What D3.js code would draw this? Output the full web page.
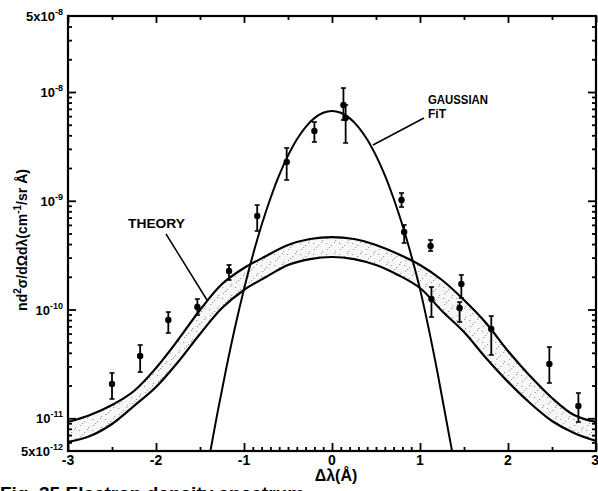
<!DOCTYPE html>
<html><head><meta charset="utf-8">
<script src="https://cdn.jsdelivr.net/npm/d3@7"></script>
<style>
html,body{margin:0;padding:0;background:#fff;}
svg{display:block;}
text{font-family:"Liberation Sans",Arial,sans-serif;font-weight:bold;fill:#000;}
</style></head>
<body>
<script>
// ---- data ----
const xTicks = [-3,-2,-1,0,1,2,3];
const xTickLabels = ["-3","-2","-1","0","1","2","3"];
const xMinorTicks = [-2.5,-1.5,-0.9,-0.8,-0.7,-0.6,-0.5,-0.4,-0.3,-0.2,-0.1,0.1,0.2,0.3,0.4,0.5,0.6,0.7,0.8,0.9,1.5,2.5];
const xTopMinor = [-2.5,-1.5,-0.5,0.5,1.5,2.5];
const yTicks = [5e-8,1e-8,1e-9,1e-10,1e-11,5e-12];
const yTickBase = ["5x10","10","10","10","10","5x10"];
const yTickExp = ["-8","-8","-9","-10","-11","-12"];

// data points: x, value, lower, upper
const ptX  = [-2.50,-2.18,-1.86,-1.53,-1.17,-0.85,-0.515,-0.20,0.13,0.155,0.79,0.82,1.12,1.13,1.47,1.45,1.81,2.47,2.80];
const ptY  = [2.07e-11,3.74e-11,8.01e-11,1.054e-10,2.26e-10,7.24e-10,2.27e-9,4.38e-9,7.60e-9,5.77e-9,1.016e-9,5.16e-10,3.84e-10,1.249e-10,1.716e-10,1.032e-10,6.62e-11,3.16e-11,1.297e-11];
const ptLo = [1.504e-11,2.66e-11,6.08e-11,8.90e-11,1.868e-10,5.27e-10,1.552e-9,3.47e-9,5.53e-9,3.40e-9,8.76e-10,4.09e-10,3.45e-10,8.53e-11,1.276e-10,7.68e-11,3.82e-11,2.11e-11,9.24e-12];
const ptHi = [2.61e-11,4.72e-11,9.48e-11,1.249e-10,2.57e-10,9.14e-10,3.06e-9,5.30e-9,1.088e-8,7.60e-9,1.179e-9,5.99e-10,4.36e-10,1.61e-10,2.08e-10,1.172e-10,8.72e-11,4.52e-11,1.707e-11];

// Gaussian fit curve
const gaussX = [-1.4,-1.3,-1.2,-1.1,-1.0,-0.9,-0.8,-0.7,-0.6,-0.5,-0.4,-0.3,-0.2,-0.1,0,0.1,0.2,0.3,0.4,0.5,0.6,0.7,0.8,0.9,1.0,1.1,1.2,1.3,1.4];
const gaussY = [4.12e-12,1.14e-11,2.92e-11,6.97e-11,1.54e-10,3.15e-10,5.98e-10,1.05e-9,1.72e-9,2.60e-9,3.66e-9,4.76e-9,5.75e-9,6.44e-9,6.69e-9,6.44e-9,5.75e-9,4.76e-9,3.66e-9,2.60e-9,1.72e-9,1.05e-9,5.98e-10,3.15e-10,1.54e-10,6.6e-11,2.6e-11,9.5e-12,3.5e-12];

// Theory band
const bandX = [-3,-2.75,-2.5,-2.25,-2,-1.75,-1.5,-1.25,-1,-0.75,-0.5,-0.25,0,0.25,0.5,0.75,1,1.25,1.5,1.75,2,2.25,2.5,2.75,3];
const bandUpper = [9.24e-12,1.071e-11,1.324e-11,1.782e-11,2.90e-11,5.25e-11,9.90e-11,1.716e-10,2.41e-10,3.10e-10,3.92e-10,4.45e-10,4.64e-10,4.45e-10,3.92e-10,3.24e-10,2.57e-10,1.868e-10,1.223e-10,7.52e-11,4.15e-11,2.45e-11,1.536e-11,1.071e-11,9.24e-12];
const bandLower = [6.05e-12,6.87e-12,8.86e-12,1.297e-11,1.938e-11,3.29e-11,5.95e-11,1.032e-10,1.512e-10,1.99e-10,2.57e-10,2.91e-10,3.04e-10,2.91e-10,2.57e-10,2.08e-10,1.577e-10,9.69e-11,6.21e-11,3.58e-11,2.16e-11,1.381e-11,9.44e-12,7.32e-12,6.18e-12];

// ---- drawing ----
const W = 598, H = 491;
const svg = d3.select("body").append("svg").attr("width", W).attr("height", H);
const x = d3.scaleLinear().domain([-3,3]).range([68,596]);
const y = d3.scaleLog().domain([5e-12,5e-8]).range([451,16]);

const defs = svg.append("defs");
defs.append("clipPath").attr("id","clip").append("rect")
  .attr("x",68).attr("y",16).attr("width",528).attr("height",435);
const pat = defs.append("pattern").attr("id","stipple").attr("patternUnits","userSpaceOnUse")
  .attr("width",13).attr("height",11);
pat.append("rect").attr("width",13).attr("height",11).attr("fill","#f7f7f7");
[[1,1],[6,3],[2,7],[10,9],[9,0],[4,5]].forEach(d=>pat.append("rect").attr("x",d[0]).attr("y",d[1]).attr("width",1.2).attr("height",1).attr("fill","#9a9a9a"));

const plot = svg.append("g").attr("clip-path","url(#clip)");

// band
const bandData = bandX.map((v,i)=>({x:v,u:bandUpper[i],l:bandLower[i]}));
plot.append("path").datum(bandData)
  .attr("d", d3.area().x(d=>x(d.x)).y0(d=>y(d.l)).y1(d=>y(d.u)).curve(d3.curveCatmullRom))
  .attr("fill","url(#stipple)");
const lineU = d3.line().x(d=>x(d.x)).y(d=>y(d.u)).curve(d3.curveCatmullRom);
const lineL = d3.line().x(d=>x(d.x)).y(d=>y(d.l)).curve(d3.curveCatmullRom);
plot.append("path").datum(bandData).attr("d",lineU).attr("fill","none").attr("stroke","#000").attr("stroke-width",2.2);
plot.append("path").datum(bandData).attr("d",lineL).attr("fill","none").attr("stroke","#000").attr("stroke-width",2.2);

// gaussian
const gData = gaussX.map((v,i)=>({x:v,y:gaussY[i]}));
plot.append("path").datum(gData)
  .attr("d", d3.line().x(d=>x(d.x)).y(d=>y(d.y)).curve(d3.curveCatmullRom))
  .attr("fill","none").attr("stroke","#000").attr("stroke-width",2);

// points
const pts = ptX.map((v,i)=>({x:v,y:ptY[i],lo:ptLo[i],hi:ptHi[i]}));
const pg = plot.append("g");
pts.forEach(d=>{
  pg.append("line").attr("x1",x(d.x)).attr("x2",x(d.x)).attr("y1",y(d.lo)).attr("y2",y(d.hi)).attr("stroke","#000").attr("stroke-width",1.8);
  [d.lo,d.hi].forEach(v=>pg.append("line").attr("x1",x(d.x)-2.5).attr("x2",x(d.x)+2.5).attr("y1",y(v)).attr("y2",y(v)).attr("stroke","#000").attr("stroke-width",1.6));
  pg.append("circle").attr("cx",x(d.x)).attr("cy",y(d.y)).attr("r",3.2).attr("fill","#000");
});

// axes
function minorLog(){
  const out=[];
  for(let e=-12;e<=-8;e++){for(let m=2;m<=9;m++){const v=m*Math.pow(10,e); if(v>5e-12*1.001 && v<5e-8*0.999) out.push(v);}}
  return out;
}
const yMinor = minorLog();
const yMajorIn = yTicks.slice(1,5);
function styleAxis(g){g.select(".domain").remove(); g.selectAll("line").attr("stroke","#000").attr("stroke-width",1.8); g.selectAll("text").remove();}
svg.append("g").attr("transform","translate(68,0)").call(d3.axisLeft(y).tickValues(yMajorIn).tickSize(-8)).call(styleAxis);
svg.append("g").attr("transform","translate(68,0)").call(d3.axisLeft(y).tickValues(yMinor).tickSize(-4)).call(styleAxis);
svg.append("g").attr("transform","translate(596,0)").call(d3.axisRight(y).tickValues(yMajorIn).tickSize(-8)).call(styleAxis);
svg.append("g").attr("transform","translate(596,0)").call(d3.axisRight(y).tickValues(yMinor).tickSize(-4)).call(styleAxis);
svg.append("g").attr("transform","translate(0,451)").call(d3.axisBottom(x).tickValues(xTicks).tickSize(-8)).call(styleAxis);
svg.append("g").attr("transform","translate(0,451)").call(d3.axisBottom(x).tickValues(xMinorTicks).tickSize(-4)).call(styleAxis);
svg.append("g").attr("transform","translate(0,16)").call(d3.axisTop(x).tickValues(xTicks).tickSize(-7)).call(styleAxis);
svg.append("g").attr("transform","translate(0,16)").call(d3.axisTop(x).tickValues(xTopMinor).tickSize(-4)).call(styleAxis);

// frame
svg.append("rect").attr("x",68).attr("y",16).attr("width",528).attr("height",435)
  .attr("fill","none").attr("stroke","#000").attr("stroke-width",2.2);

// y tick labels
yTicks.forEach((v,i)=>{
  const t = svg.append("text").attr("x",63).attr("y",y(v)+5).attr("text-anchor","end").attr("font-size",13);
  t.append("tspan").text(yTickBase[i]);
  t.append("tspan").attr("dy",-6).attr("font-size",9).text(yTickExp[i]);
});
// x tick labels
xTicks.forEach((v,i)=>{
  svg.append("text").attr("x",x(v)).attr("y",465).attr("text-anchor",i===xTicks.length-1?"end":"middle").attr("dx",i===xTicks.length-1?3:0).attr("font-size",14).text(xTickLabels[i]);
});
// axis titles
svg.append("text").attr("x",336).attr("y",481).attr("text-anchor","middle").attr("font-size",16).text("Δλ(Å)");
const yt = svg.append("text").attr("transform","translate(27,240) rotate(-90)").attr("text-anchor","middle").attr("font-size",14);
yt.append("tspan").text("nd");
yt.append("tspan").attr("dy",-6).attr("font-size",10).text("2");
yt.append("tspan").attr("dy",6).text("σ/dΩdλ(cm");
yt.append("tspan").attr("dy",-6).attr("font-size",10).text("-1");
yt.append("tspan").attr("dy",6).text("/sr Å)");

// annotations
svg.append("text").attr("x",428).attr("y",104).attr("font-size",12).attr("textLength",60).attr("lengthAdjust","spacingAndGlyphs").text("GAUSSIAN");
svg.append("text").attr("x",428).attr("y",118).attr("font-size",12).text("FiT");
svg.append("line").attr("x1",424).attr("y1",118).attr("x2",373).attr("y2",145).attr("stroke","#000").attr("stroke-width",1.5);
svg.append("text").attr("x",128).attr("y",228).attr("font-size",13).attr("textLength",57).attr("lengthAdjust","spacingAndGlyphs").text("THEORY");
svg.append("line").attr("x1",166).attr("y1",234).attr("x2",207).attr("y2",300).attr("stroke","#000").attr("stroke-width",1.5);

// caption (cut off at bottom, as in the source)
svg.append("text").attr("x",0).attr("y",500).attr("font-family","Liberation Serif").attr("font-size",19).text("Fig. 35    Electron density spectrum");
</script>
</body></html>
